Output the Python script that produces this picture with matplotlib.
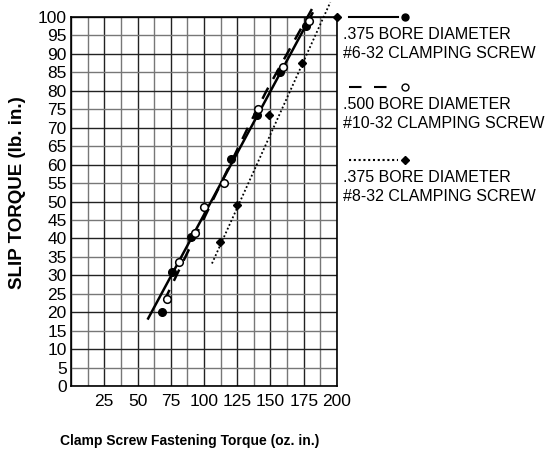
import matplotlib.pyplot as plt
from matplotlib.lines import Line2D

# .375 bore, #6-32 screw (solid line, filled circles)
s1_x = [68.5, 76, 90.5, 120, 140, 157.5, 177]
s1_y = [20, 31, 40.5, 61.5, 73.5, 85, 97.5]
s1_line_x = [58, 181.5]
s1_line_y = [18.3, 101]

# .500 bore, #10-32 screw (dashed line, open circles)
s2_x = [72, 81, 93.5, 100, 115, 140.5, 159.5, 179]
s2_y = [23.5, 33.5, 41.5, 48.5, 55, 75, 86.5, 99]
s2_line_x = [70, 90, 133, 147, 184]
s2_line_y = [23, 38, 70, 80, 104]

# .375 bore, #8-32 screw (dotted line, diamonds)
s3_x = [112, 125, 149, 174, 200]
s3_y = [39, 49, 73.5, 87.5, 100]
s3_line_x = [106, 195]
s3_line_y = [33.2, 104]

x_ticks = [25, 50, 75, 100, 125, 150, 175, 200]
y_ticks = list(range(0, 101, 5))

legend_lines = [".375 BORE DIAMETER\n#6-32 CLAMPING SCREW",
                ".500 BORE DIAMETER\n#10-32 CLAMPING SCREW",
                ".375 BORE DIAMETER\n#8-32 CLAMPING SCREW"]

plt.rcParams['font.family'] = ['Liberation Sans', 'DejaVu Sans']

fig = plt.figure(figsize=(5.45, 4.55), dpi=100)
ax = fig.add_axes([0.1303, 0.1516, 0.488, 0.811])

# grid
for i in range(0, 17):
    gx = i * 12.5
    ax.axvline(gx, color='#222222' if i % 2 == 0 else '#777777', lw=1.0, zorder=1)
for gy in y_ticks:
    ax.axhline(gy, color='#222222' if gy % 10 == 0 else '#777777', lw=1.0, zorder=1)

ax.plot(s1_line_x, s1_line_y, color='black', lw=1.8, clip_on=False, zorder=3)
ax.plot(s2_line_x, s2_line_y, color='black', lw=1.8, dashes=(5, 4), clip_on=False, zorder=3)
ax.plot(s3_line_x, s3_line_y, color='black', lw=1.3, dashes=(1, 1.3), clip_on=False, zorder=3)

ax.plot(s1_x, s1_y, 'o', color='black', ms=5.5, clip_on=False, zorder=4)
ax.plot(s2_x, s2_y, 'o', mfc='white', mec='black', mew=1.1, ms=5.5, clip_on=False, zorder=5)
ax.plot(s3_x, s3_y, 'D', color='black', ms=4.5, clip_on=False, zorder=4)

ax.set_xlim(0, 200)
ax.set_ylim(0, 100)
ax.set_xticks(x_ticks)
ax.set_yticks(y_ticks)
ax.tick_params(length=0, labelsize=12.5, pad=3)
ax.tick_params(axis='x', pad=6)
for sp in ax.spines.values():
    sp.set_color('black')
    sp.set_linewidth(1.2)

fig.text(18 / 545, 1 - 193 / 455, 'SLIP TORQUE (lb. in.)', rotation=90, fontsize=13.5,
         fontweight='bold', ha='center', va='center')
fig.text(190 / 545, 1 - 441 / 455, 'Clamp Screw Fastening Torque (oz. in.)', fontsize=10,
         fontweight='bold', ha='center', va='center')

# legend
W, H = 545.0, 455.0
samples = [dict(ls='-', marker='o', mfc='black', ms=5),
           dict(ls=(0, (6, 6)), marker='o', mfc='white', ms=5),
           dict(ls=(0, (1, 1.3)), marker='D', mfc='black', ms=4.5)]
sample_y = [17, 87, 160]
for ly, label, st in zip(sample_y, legend_lines, samples):
    yf = 1 - ly / H
    fig.add_artist(Line2D([349 / W, 398 / W], [yf, yf], transform=fig.transFigure,
                          color='black', lw=1.5, linestyle=st['ls']))
    fig.add_artist(Line2D([405 / W], [yf], transform=fig.transFigure, marker=st['marker'],
                          mfc=st['mfc'], mec='black', ms=st['ms'], linestyle='none'))
    fig.text(343 / W, 1 - (ly + 27) / H, label, fontsize=11.5, ha='left', va='center',
             linespacing=1.3)

fig.savefig('out.png', dpi=100)
